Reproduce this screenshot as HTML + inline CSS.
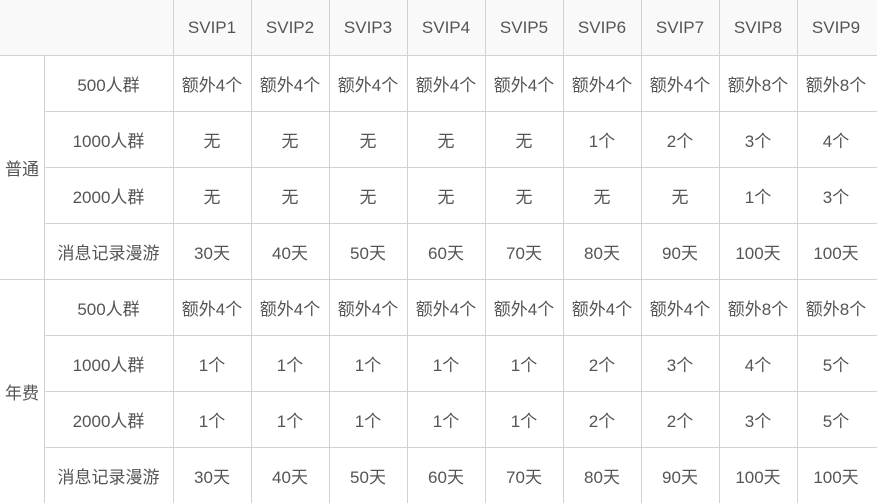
<!DOCTYPE html>
<html><head><meta charset="utf-8">
<style>
html,body{margin:0;padding:0;background:#fff;width:877px;height:503px;overflow:hidden}
#t{position:relative;width:877px;height:503px;font-family:"Liberation Sans","Noto Sans CJK SC",sans-serif;font-size:17px;color:#555}
.c{position:absolute;display:flex;align-items:center;justify-content:center;box-sizing:border-box}
.hl{position:absolute;height:1px;background:#d2d2d2}
.vl{position:absolute;width:1px;background:#d2d2d2}
</style></head><body>
<div id="t"></div>
<script>
const headers=["SVIP1","SVIP2","SVIP3","SVIP4","SVIP5","SVIP6","SVIP7","SVIP8","SVIP9"];
const groups=["普通","年费"];
const rowLabels=["500人群","1000人群","2000人群","消息记录漫游"];
const normalRows=[
["额外4个","额外4个","额外4个","额外4个","额外4个","额外4个","额外4个","额外8个","额外8个"],
["无","无","无","无","无","1个","2个","3个","4个"],
["无","无","无","无","无","无","无","1个","3个"],
["30天","40天","50天","60天","70天","80天","90天","100天","100天"]];
const annualRows=[
["额外4个","额外4个","额外4个","额外4个","额外4个","额外4个","额外4个","额外8个","额外8个"],
["1个","1个","1个","1个","1个","2个","3个","4个","5个"],
["1个","1个","1个","1个","1个","2个","2个","3个","5个"],
["30天","40天","50天","60天","70天","80天","90天","100天","100天"]];
const t=document.getElementById('t');
const X0=173,CW=78,HH=55,RH=56;
function cell(x,y,w,h,txt,name){const d=document.createElement('div');d.className='c';d.style.left=x+'px';d.style.top=y+'px';d.style.width=w+'px';d.style.height=h+'px';d.textContent=txt;


t.appendChild(d);return d;}
const hb=document.createElement('div');hb.style.cssText='position:absolute;left:0;top:0;width:877px;height:55px;background:#f9f9f9';


t.appendChild(hb);
headers.forEach((h,i)=>cell(X0+i*CW,0,CW,HH,h,'header-'+h.toLowerCase()));
[normalRows,annualRows].forEach((rows,g)=>{
  const gy=HH+g*4*RH;
  cell(0,gy,44,4*RH,groups[g],'group-label');
  rows.forEach((r,ri)=>{
    const y=gy+ri*RH;
    cell(44,y,129,RH,rowLabels[ri],'row-label');
    r.forEach((v,ci)=>cell(X0+ci*CW,y,CW,RH,v,'cell-value'));
  });
});
function line(cls,x,y,len,name){const d=document.createElement('div');d.className=cls;d.style.left=x+'px';d.style.top=y+'px';
if(cls==='hl')d.style.width=len+'px';else d.style.height=len+'px';


t.appendChild(d);}
line('hl',0,55,877,'grid-line');
line('hl',0,279,877,'grid-line');
for(let g=0;g<2;g++)for(let r=1;r<4;r++)line('hl',44,HH+g*4*RH+r*RH,833,'grid-line');
line('vl',44,55,448,'grid-line');
for(let i=0;i<9;i++)line('vl',X0+i*CW,0,503,'grid-line');
</script>
</body></html>
